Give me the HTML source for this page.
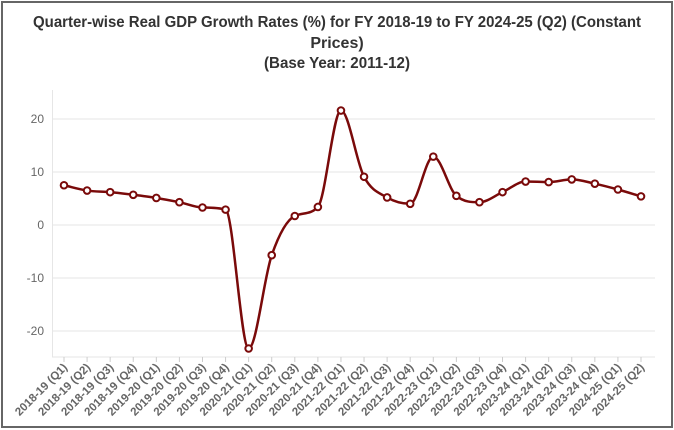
<!DOCTYPE html>
<html><head><meta charset="utf-8"><style>
html,body{margin:0;padding:0;background:#fff;}
svg{display:block;font-family:"Liberation Sans",sans-serif;}
</style></head><body>
<svg id="s" width="674" height="430" viewBox="0 0 674 430" xmlns="http://www.w3.org/2000/svg">
<rect x="2" y="2" width="670" height="425" fill="#fff" stroke="#666" stroke-width="2"/>
<g font-weight="bold" font-size="16" fill="#333" text-anchor="middle">
<text x="337" y="27" textLength="608" lengthAdjust="spacingAndGlyphs">Quarter-wise Real GDP Growth Rates (%) for FY 2018-19 to FY 2024-25 (Q2) (Constant</text>
<text x="337" y="48">Prices)</text>
<text x="337" y="68" textLength="146" lengthAdjust="spacingAndGlyphs">(Base Year: 2011-12)</text>
</g>
<g stroke="#e6e6e6" stroke-width="1">
<line x1="52" y1="119" x2="655" y2="119"/>
<line x1="52" y1="172" x2="655" y2="172"/>
<line x1="52" y1="225" x2="655" y2="225"/>
<line x1="52" y1="278" x2="655" y2="278"/>
<line x1="52" y1="331" x2="655" y2="331"/>
<line x1="52.5" y1="90" x2="52.5" y2="357"/>
<line x1="52" y1="357" x2="655" y2="357"/>
</g>
<g font-size="12" fill="#666" text-anchor="end">
<text x="44" y="123">20</text><text x="44" y="176">10</text><text x="44" y="229">0</text>
<text x="44" y="282">-10</text><text x="44" y="335">-20</text>
</g>
<g id="ticks"></g>
<path id="line" fill="none" stroke="#7a0a0a" stroke-width="2.5"/>
<g id="pts"></g>
</svg>
<script>
var v=[7.5,6.5,6.2,5.7,5.1,4.3,3.3,2.9,-23.3,-5.7,1.7,3.4,21.6,9.1,5.2,4.0,12.9,5.5,4.3,6.2,8.2,8.1,8.6,7.8,6.7,5.4];
var lab=[];var yrs=["2018-19","2019-20","2020-21","2021-22","2022-23","2023-24","2024-25"];
for(var i=0;i<v.length;i++)lab.push(yrs[Math.floor(i/4)]+" (Q"+(i%4+1)+")");
var n=v.length,x0=64,x1=641,dx=(x1-x0)/(n-1);
var P=v.map(function(d,i){return [x0+i*dx,225-d*5.3];});
var s=[],m=[];
for(var i=0;i<n-1;i++)s.push((P[i+1][1]-P[i][1])/dx);
m[0]=s[0];m[n-1]=s[n-2];
for(var i=1;i<n-1;i++){ if(s[i-1]*s[i]<=0)m[i]=0; else m[i]=(s[i-1]+s[i])/2; }
for(var i=0;i<n-1;i++){ if(s[i]==0){m[i]=0;m[i+1]=0;continue;} var a=m[i]/s[i],b=m[i+1]/s[i],h=a*a+b*b; if(h>9){var t=3/Math.sqrt(h);m[i]=t*a*s[i];m[i+1]=t*b*s[i];} }
var d="M"+P[0][0]+","+P[0][1];
for(var i=0;i<n-1;i++){var h=dx/3;
d+=" C"+(P[i][0]+h)+","+(P[i][1]+m[i]*h)+" "+(P[i+1][0]-h)+","+(P[i+1][1]-m[i+1]*h)+" "+P[i+1][0]+","+P[i+1][1];}
document.getElementById("line").setAttribute("d",d);
var ns="http://www.w3.org/2000/svg",g=document.getElementById("pts"),tk=document.getElementById("ticks");
P.forEach(function(p,i){var c=document.createElementNS(ns,"circle");c.setAttribute("cx",p[0]);c.setAttribute("cy",p[1]);c.setAttribute("r",3.3);c.setAttribute("fill","#fff");c.setAttribute("stroke","#7a0a0a");c.setAttribute("stroke-width",2);g.appendChild(c);
var l=document.createElementNS(ns,"line");l.setAttribute("x1",p[0]);l.setAttribute("x2",p[0]);l.setAttribute("y1",357);l.setAttribute("y2",362);l.setAttribute("stroke","#ccc");tk.appendChild(l);
var t=document.createElementNS(ns,"text");t.setAttribute("transform","translate("+(p[0]+4)+",368) rotate(-45)");t.setAttribute("text-anchor","end");t.setAttribute("font-size","11.5");t.setAttribute("font-weight","bold");t.setAttribute("fill","#666");t.textContent=lab[i];tk.appendChild(t);});
</script>
</body></html>
